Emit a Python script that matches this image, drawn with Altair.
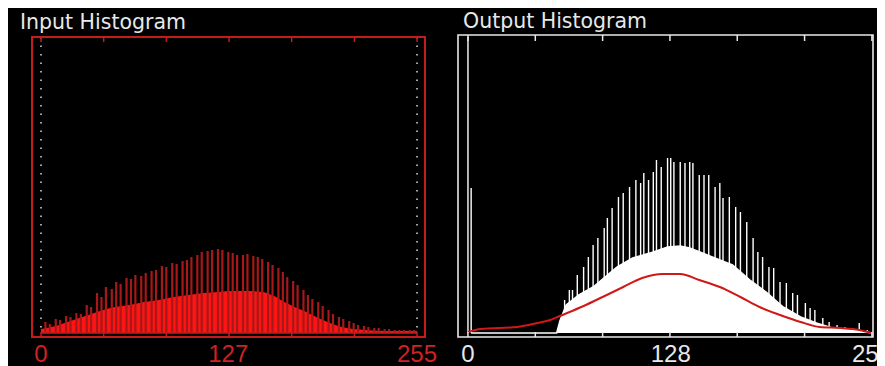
import altair as alt
import pandas as pd

# ---------------- data ----------------
in_spike_bins = [3, 6, 10, 13, 17, 20, 24, 27, 31, 34, 38, 41, 44, 48, 51, 54, 58, 61, 64, 68,
                 71, 75, 78, 82, 85, 89, 92, 96, 99, 102, 106, 109, 113, 116, 120, 123, 127, 130, 133, 137,
                 140, 144, 147, 150, 154, 157, 161, 164, 167, 171, 174, 178, 181, 184, 188, 191, 195, 198, 202, 205,
                 209, 212, 215, 219, 222, 226, 229, 233, 236, 240, 243, 246, 250, 253]
in_spike_counts = [11, 9, 14, 13, 17, 16, 20, 19, 28, 26, 40, 36, 46, 44, 51, 49, 55, 54, 58, 57,
                   60, 62, 63, 67, 66, 70, 69, 72, 73, 76, 78, 81, 82, 83, 84, 83, 81, 80, 78, 78,
                   79, 77, 76, 74, 71, 68, 65, 61, 56, 52, 48, 43, 38, 34, 31, 27, 23, 19, 16, 14,
                   12, 10, 8, 7, 6, 5, 5, 4, 4, 3, 3, 3, 3, 3]
in_fill_bins = [0, 10, 20, 30, 40, 50, 60, 70, 80, 90, 100, 110, 120, 130, 140, 150, 158, 165, 172,
                180, 188, 196, 204, 212, 220, 235, 255]
in_fill_counts = [4, 7, 12, 17, 22, 26, 28, 31, 33, 36, 38, 40, 41, 42, 42, 41, 37, 31, 26,
                  21, 15, 10, 6, 4, 3, 2, 2]

out_spike_bins = [0, 2, 61, 64, 66, 69, 73, 76, 79, 82, 86, 88, 91, 95, 98, 102, 106, 109, 111, 114,
                  117, 119, 122, 126, 128, 130, 134, 137, 140, 142, 146, 149, 152, 156, 159, 161, 165, 169, 172, 176,
                  180, 183, 186, 190, 193, 197, 201, 205, 208, 213, 216, 219, 224, 228, 233, 238, 243, 247, 252]
out_spike_counts = [296, 145, 33, 43, 43, 58, 66, 76, 88, 95, 105, 115, 125, 136, 140, 146, 153, 150, 160, 153,
                    161, 173, 166, 175, 175, 171, 171, 170, 171, 170, 158, 158, 158, 146, 150, 135, 136, 126, 121, 111,
                    95, 81, 76, 66, 65, 51, 50, 40, 38, 30, 25, 23, 15, 11, 8, 6, 5, 10, 3]
out_fill_bins = [2, 56, 58, 62, 70, 79, 94, 104, 117, 126, 134, 140, 148, 159, 167, 178, 189, 199,
                 210, 220, 230, 243, 255]
out_fill_counts = [0, 0, 12, 28, 38, 46, 66, 75, 81, 86, 87, 85, 80, 73, 68, 53, 40, 26,
                   16, 10, 5, 3, 0]
out_curve_bins = [0, 8, 31, 44, 52, 58, 73, 85, 98, 110, 123, 134, 146, 159, 172, 184, 197, 210,
                  222, 235, 247, 255]
out_curve_counts = [1, 4, 6, 10, 13, 17, 27, 36, 46, 55, 59, 59, 53, 46, 36, 26, 18, 11,
                    6, 5, 3, 0]

tick_positions = [0, 42.5, 85, 127.5, 170, 212.5, 255]
in_label_values = [0, 127, 255]
out_label_values = [0, 128, 255]
edge_bins = [0, 255]

# ---------------- styling ----------------
RED_FRAME = "#c41c1c"
RED_LABEL = "#d02222"
RED_FILL = "#ff1414"
RED_SPIKE = "#a81818"
WHITE = "#e8e8e8"

W_IN, H = 393, 300
W_OUT_FRAME = 415
W_OUT = 419           # right view reaches the right edge of the page area
H_OUT = 329           # right view includes the label strip (labels are clipped at the edge)

one = pd.DataFrame({"k": [0]})
ys_in = alt.Scale(domain=[-4, 296], nice=False, zero=False)
ys_out = alt.Scale(domain=[-33, 296], nice=False, zero=False)
xs_in = alt.Scale(domain=[-6.1, 260.4], nice=False, zero=False)
k_out = W_OUT_FRAME / (255.7 + 6.3)
xs_out = alt.Scale(domain=[-6.3, -6.3 + W_OUT / k_out], nice=False, zero=False)


def X(field, scale):
    return alt.X(field, type="quantitative", scale=scale, axis=None)


def Y(field, scale):
    return alt.Y(field, type="quantitative", scale=scale, axis=None)


# ---------------- left: input histogram ----------------
df_in_sp = pd.DataFrame({"bin": in_spike_bins, "count": in_spike_counts})
df_in_fill = pd.DataFrame({"bin": in_fill_bins, "count": in_fill_counts})
df_ticks = pd.DataFrame({"pos": tick_positions})
df_in_lab = pd.DataFrame({"bin": in_label_values, "label": [str(v) for v in in_label_values]})
df_edges = pd.DataFrame({"bin": edge_bins})

in_bg = alt.Chart(one).mark_rect(color="black").encode(
    x=alt.value(-24), x2=alt.value(W_IN + 30), y=alt.value(-29), y2=alt.value(H + 29))
in_fill = alt.Chart(df_in_fill).mark_area(color=RED_FILL, interpolate="monotone").encode(
    x=X("bin", xs_in), y=Y("count", ys_in), y2=alt.datum(0))
in_spikes = alt.Chart(df_in_sp).mark_rule(color=RED_SPIKE, strokeWidth=2.2).encode(
    x=X("bin", xs_in), y=Y("count", ys_in), y2=alt.datum(0))
in_base = alt.Chart(df_edges).mark_line(color=RED_FRAME, strokeWidth=1.5).encode(
    x=X("bin", xs_in), y=alt.datum(0))
in_dots = alt.Chart(df_edges).mark_rule(color="#dddddd", strokeWidth=1.5, strokeDash=[1.5, 7]).encode(
    x=X("bin", xs_in), y=alt.value(0), y2=alt.value(296))
in_ticks_top = alt.Chart(df_ticks).mark_rule(color=RED_FRAME, strokeWidth=1.5).encode(
    x=X("pos", xs_in), y=alt.value(0), y2=alt.value(5))
in_ticks_bot = alt.Chart(df_ticks).mark_rule(color=RED_FRAME, strokeWidth=1.5).encode(
    x=X("pos", xs_in), y=alt.value(H - 5), y2=alt.value(H))
in_frame = alt.Chart(one).mark_rect(fillOpacity=0, stroke=RED_FRAME, strokeWidth=2).encode(
    x=alt.value(0), x2=alt.value(W_IN), y=alt.value(0), y2=alt.value(H))
in_labels = alt.Chart(df_in_lab).mark_text(
    font="Liberation Sans", fontSize=24, color=RED_LABEL, baseline="alphabetic").encode(
    x=X("bin", xs_in), y=alt.value(325), text="label:N")
in_title = alt.Chart(one).mark_text(
    text="Input Histogram", align="left", baseline="alphabetic",
    font="DejaVu Sans", fontSize=20.5, color=WHITE).encode(x=alt.value(-12), y=alt.value(-8))

left = alt.layer(in_bg, in_fill, in_spikes, in_base, in_dots, in_ticks_top, in_ticks_bot,
                 in_frame, in_labels, in_title).properties(width=W_IN, height=H)

# ---------------- right: output histogram ----------------
df_out_sp = pd.DataFrame({"bin": out_spike_bins, "count": out_spike_counts})
df_out_fill = pd.DataFrame({"bin": out_fill_bins, "count": out_fill_counts})
df_out_curve = pd.DataFrame({"bin": out_curve_bins, "count": out_curve_counts})
df_out_lab = pd.DataFrame({"bin": out_label_values, "label": [str(v) for v in out_label_values]})

out_bg = alt.Chart(one).mark_rect(color="black").encode(
    x=alt.value(-3), x2=alt.value(W_OUT), y=alt.value(-29), y2=alt.value(H_OUT))
out_fill = alt.Chart(df_out_fill).mark_area(color="white").encode(
    x=X("bin", xs_out), y=Y("count", ys_out), y2=alt.datum(0))
out_fill_line = alt.Chart(df_out_fill).mark_line(color="white", strokeWidth=1.5).encode(
    x=X("bin", xs_out), y=Y("count", ys_out))
out_spikes = alt.Chart(df_out_sp).mark_rule(color="white", strokeWidth=1.4).encode(
    x=X("bin", xs_out), y=Y("count", ys_out), y2=alt.datum(0))
out_curve = alt.Chart(df_out_curve).mark_line(color="#d01818", strokeWidth=2, interpolate="monotone").encode(
    x=X("bin", xs_out), y=Y("count", ys_out))
out_ticks_top = alt.Chart(df_ticks).mark_rule(color=WHITE, strokeWidth=1.5).encode(
    x=X("pos", xs_out), y=alt.value(-2), y2=alt.value(4))
out_ticks_bot = alt.Chart(df_ticks).mark_rule(color=WHITE, strokeWidth=1.5).encode(
    x=X("pos", xs_out), y=alt.value(H - 5), y2=alt.value(H))
out_frame = alt.Chart(one).mark_rect(fillOpacity=0, stroke=WHITE, strokeWidth=1.6).encode(
    x=alt.value(0), x2=alt.value(W_OUT_FRAME), y=alt.value(-2), y2=alt.value(H))
out_labels = alt.Chart(df_out_lab).mark_text(
    font="Liberation Sans", fontSize=24, color=WHITE, baseline="alphabetic", clip=True).encode(
    x=X("bin", xs_out), y=alt.value(325), text="label:N")
out_title = alt.Chart(one).mark_text(
    text="Output Histogram", align="left", baseline="alphabetic",
    font="DejaVu Sans", fontSize=20.5, color=WHITE).encode(x=alt.value(5), y=alt.value(-9))

right = alt.layer(out_bg, out_fill, out_fill_line, out_spikes, out_curve, out_ticks_top,
                  out_ticks_bot, out_frame, out_labels, out_title).properties(width=W_OUT, height=H_OUT)

chart = alt.hconcat(left, right, spacing=0, padding=0, background="black").configure_view(stroke=None)

chart.save("out.html", embed_options={"renderer": "svg", "actions": False})
